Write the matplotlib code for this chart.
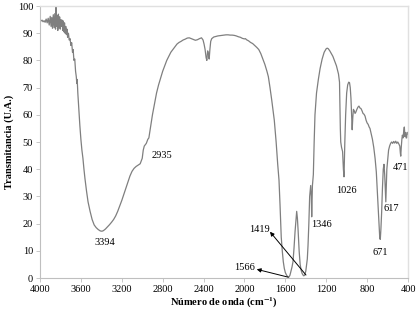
import matplotlib
matplotlib.use("Agg")
import matplotlib.pyplot as plt

wavenumber = [4000, 3990, 3980, 3970, 3960, 3950, 3940, 3930, 3920, 3910, 3900, 3892, 3885, 3878,
              3870, 3862, 3855, 3848, 3843, 3838, 3832, 3826, 3820, 3814, 3808, 3802, 3796, 3790,
              3784, 3778, 3772, 3766, 3760, 3754, 3748, 3742, 3736, 3730, 3722, 3714, 3706, 3698,
              3690, 3682, 3676, 3668, 3660, 3652, 3645, 3640, 3636, 3630, 3620, 3610, 3600, 3590,
              3580, 3570, 3560, 3545, 3530, 3510, 3490, 3470, 3450, 3430, 3410, 3394, 3380, 3360,
              3340, 3320, 3300, 3280, 3260, 3240, 3220, 3200, 3180, 3160, 3140, 3120, 3100, 3080,
              3060, 3040, 3020, 3000, 2990, 2980, 2960, 2945, 2935, 2925, 2900, 2880, 2860, 2840,
              2820, 2800, 2780, 2760, 2740, 2720, 2700, 2680, 2660, 2640, 2620, 2600, 2580, 2560,
              2540, 2520, 2500, 2480, 2460, 2440, 2420, 2405, 2395, 2385, 2375, 2368, 2360, 2352,
              2345, 2338, 2330, 2320, 2300, 2280, 2260, 2240, 2220, 2200, 2180, 2160, 2140, 2120,
              2100, 2080, 2060, 2040, 2020, 2000, 1990, 1980, 1960, 1950, 1940, 1920, 1900, 1880,
              1860, 1840, 1820, 1800, 1780, 1766, 1750, 1733, 1720, 1708, 1690, 1675, 1662, 1652,
              1640, 1630, 1620, 1610, 1600, 1590, 1580, 1566, 1555, 1545, 1535, 1525, 1515, 1505,
              1495, 1489, 1482, 1475, 1465, 1455, 1445, 1435, 1425, 1419, 1410, 1400, 1392, 1385,
              1378, 1370, 1362, 1352, 1346, 1342, 1335, 1326, 1318, 1310, 1295, 1277, 1260, 1240,
              1220, 1200, 1190, 1180, 1165, 1150, 1135, 1120, 1110, 1100, 1080, 1070, 1062, 1058,
              1050, 1040, 1032, 1026, 1018, 1010, 1000, 990, 980, 972, 965, 958, 952, 946,
              940, 934, 926, 918, 910, 900, 890, 880, 870, 860, 850, 840, 830, 820,
              810, 800, 790, 780, 772, 760, 748, 735, 722, 710, 700, 690, 682, 676,
              671, 665, 658, 650, 642, 635, 628, 622, 617, 612, 607, 600, 590, 580,
              570, 560, 550, 540, 530, 520, 510, 500, 490, 480, 475, 471, 466, 460,
              455, 448, 442, 436, 430, 425, 418, 413, 408, 403, 400]
transmittance = [94.6, 94.5, 94.8, 94.2, 94.6, 94.0, 95.2, 93.8, 95.5, 93.0, 96.2, 92.5, 95.8, 91.8,
                 96.8, 92.0, 97.2, 91.5, 100.0, 92.5, 96.5, 91.0, 97.0, 92.0, 96.0, 91.5, 95.0, 92.5,
                 94.8, 91.0, 94.5, 90.5, 93.8, 90.0, 92.5, 89.5, 91.5, 88.5, 90.0, 87.5, 88.0, 85.5,
                 86.5, 83.0, 84.0, 80.0, 80.5, 76.0, 74.0, 71.5, 73.0, 68.0, 62.0, 56.0, 51.0, 47.0,
                 44.0, 40.0, 36.5, 32.0, 28.0, 24.5, 21.5, 19.5, 18.5, 17.8, 17.3, 17.2, 17.4, 18.0,
                 18.8, 19.6, 20.5, 21.5, 22.8, 24.5, 26.5, 28.5, 30.8, 33.0, 35.2, 37.5, 39.2, 40.3,
                 41.0, 41.5, 42.0, 44.0, 47.0, 48.5, 49.5, 51.0, 51.5, 54.0, 60.0, 64.0, 68.0, 71.0,
                 73.5, 76.0, 78.0, 80.0, 81.5, 83.0, 84.0, 85.0, 86.0, 86.6, 87.0, 87.5, 87.8, 88.2,
                 88.3, 88.0, 87.7, 87.4, 87.6, 88.0, 88.3, 87.5, 86.0, 84.0, 81.0, 80.0, 83.5, 82.5,
                 80.5, 84.0, 87.0, 88.0, 88.6, 88.8, 89.0, 89.1, 89.2, 89.3, 89.4, 89.4, 89.3, 89.3,
                 89.2, 89.0, 88.7, 88.5, 88.1, 87.9, 88.0, 87.6, 87.2, 86.9, 86.6, 86.2, 85.5, 84.8,
                 84.0, 82.5, 80.5, 78.5, 76.0, 74.0, 70.0, 65.4, 61.5, 58.0, 50.0, 42.0, 36.0, 27.0,
                 15.0, 10.0, 6.0, 3.5, 2.0, 1.2, 0.6, 0.3, 1.0, 2.5, 4.0, 6.0, 11.0, 17.0,
                 22.0, 24.5, 22.0, 17.5, 10.0, 5.0, 2.8, 1.6, 1.0, 0.8, 1.1, 2.5, 5.0, 7.0,
                 12.0, 20.0, 30.0, 34.0, 30.0, 22.5, 34.0, 38.0, 50.0, 60.0, 68.0, 73.0, 77.0, 80.5,
                 83.0, 84.3, 84.5, 84.3, 83.5, 82.5, 81.5, 80.0, 79.0, 78.0, 75.0, 72.0, 55.0, 50.0,
                 48.0, 46.5, 40.0, 37.2, 50.0, 60.0, 68.0, 71.0, 72.0, 71.8, 70.0, 66.0, 60.0, 54.5,
                 59.0, 62.0, 61.5, 60.5, 61.0, 62.0, 62.8, 63.2, 62.5, 62.3, 61.5, 60.5, 60.2, 59.5,
                 58.0, 57.0, 56.5, 55.5, 55.0, 53.0, 51.0, 48.0, 44.0, 39.0, 32.0, 25.0, 19.0, 14.5,
                 14.2, 18.0, 24.0, 33.0, 40.0, 41.8, 38.0, 32.0, 28.0, 34.0, 40.0, 43.0, 47.0, 48.5,
                 49.5, 50.0, 49.5, 50.2, 49.6, 50.3, 49.5, 50.0, 49.3, 48.5, 46.0, 44.8, 48.0, 51.0,
                 52.5, 51.5, 54.0, 55.5, 52.0, 53.5, 51.5, 51.5, 53.5, 53.0, 53.5]

# peak labels: text, label position (wn, T)
peak_labels = ["3394", "2935", "1026", "671", "617", "471", "1346"]
peak_label_x = [3364, 2810, 1006, 674, 560, 478, 1244]
peak_label_y = [12.9, 44.9, 32.0, 9.3, 25.4, 40.7, 19.7]

# arrow labels: text, text position, arrow tip
arrow_labels = ["1566", "1419"]
arrow_text_x = [2001, 1848]
arrow_text_y = [3.8, 17.9]
arrow_tip_x = [1571, 1398]
arrow_tip_y = [0.3, 1.1]
arrow_head_x = [1880, 1750]
arrow_head_y = [3.2, 17.0]

xticks = [4000, 3600, 3200, 2800, 2400, 2000, 1600, 1200, 800, 400]
yticks = [0, 10, 20, 30, 40, 50, 60, 70, 80, 90, 100]

plt.rcParams['font.family'] = ['Liberation Serif', 'DejaVu Serif']
plt.rcParams['mathtext.fontset'] = 'stix'

fig = plt.figure(figsize=(4.19, 3.09), dpi=100)
ax = fig.add_axes([40/419, 1-278/309, 368/419, 272/309])
ax.plot(wavenumber, transmittance, color='#7f7f7f', lw=0.9)
ax.set_xlim(4000, 400)
ax.set_ylim(0, 100)
ax.set_xticks(xticks)
ax.set_yticks(yticks)
ax.tick_params(labelsize=7.5, length=3, width=0.6, color='#bfbfbf', pad=2, direction='out')
for s in ['left', 'bottom']:
    ax.spines[s].set_color('#bfbfbf')
    ax.spines[s].set_linewidth(0.8)
for s in ['top', 'right']:
    ax.spines[s].set_color('#e0e0e0')
    ax.spines[s].set_linewidth(1.0)

for t, x, y in zip(peak_labels, peak_label_x, peak_label_y):
    ax.text(x, y, t, fontsize=7.5, ha='center', va='center')
for t, x, y in zip(arrow_labels, arrow_text_x, arrow_text_y):
    ax.text(x, y, t, fontsize=7.5, ha='center', va='center')
for tx, ty, hx, hy in zip(arrow_tip_x, arrow_tip_y, arrow_head_x, arrow_head_y):
    ax.annotate('', xy=(hx, hy), xytext=(tx, ty),
                arrowprops=dict(arrowstyle='-|>', color='black', lw=0.7,
                                mutation_scale=6, shrinkA=0, shrinkB=0))

ax.set_xlabel(r'Número de onda (cm$^{\mathbf{-1}}$)', fontsize=7.5, fontweight='bold', labelpad=1)
ax.set_ylabel('Transmitancia (U.A.)', fontsize=7.5, fontweight='bold')
ax.yaxis.set_label_coords(-0.071, 0.5)

fig.savefig('out.png', dpi=100)
